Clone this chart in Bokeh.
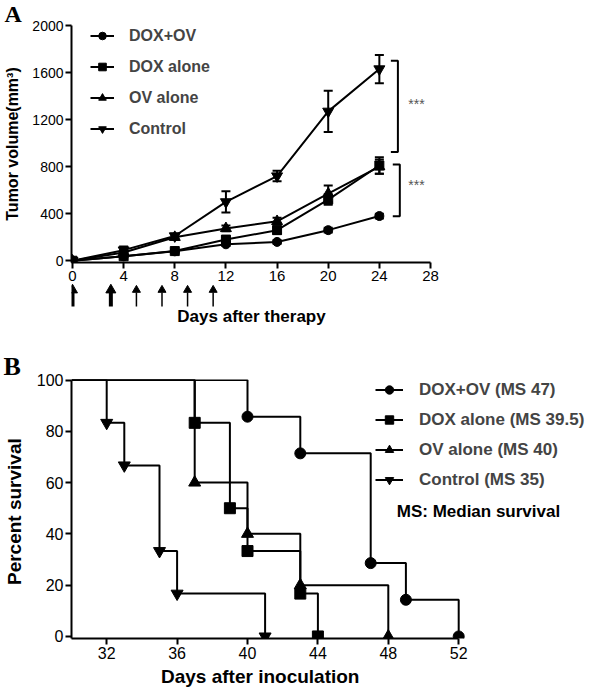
from bokeh.plotting import figure
from bokeh.layouts import column
from bokeh.models import (ColumnDataSource, Legend, LegendItem, Label, Whisker,
                          TeeHead, FixedTicker, Range1d)
from bokeh.embed import file_html
from bokeh.resources import INLINE
from bokeh.core.properties import value

FONT = "Liberation Sans"

# ---------------- Panel A data ----------------
days = [0, 4, 8, 12, 16, 20, 24]
dox_ov = [0, 38, 80, 140, 160, 260, 380]
dox_ov_err = [0, 8, 10, 15, 15, 20, 20]
dox_alone = [0, 38, 82, 180, 260, 520, 810]
dox_alone_err = [0, 8, 15, 20, 30, 45, 70]
ov_alone = [0, 70, 200, 275, 335, 570, 800]
ov_alone_err = [0, 15, 20, 25, 30, 70, 60]
control = [0, 90, 210, 500, 720, 1270, 1630]
control_err = [0, 30, 20, 90, 45, 175, 120]
series_names_A = ["DOX+OV", "DOX alone", "OV alone", "Control"]

# treatment days (arrows under the axis)
arrow_days = [0, 3, 5, 7, 9, 11]
arrow_thick = [True, True, False, False, False, False]

# significance brackets
bracket_x = [[24.9, 25.45, 25.45, 24.9], [25.05, 25.6, 25.6, 25.05]]
bracket_y = [[1700, 1700, 925, 925], [818, 818, 379, 379]]
star_x = [26.9, 26.9]
star_y = [1335, 642]
star_text = ["***", "***"]

# ---------------- Panel B data ----------------
surv_dox_ov_t = [40, 43, 47, 49, 52]
surv_dox_ov_s = [85.7, 71.4, 28.6, 14.3, 0]
surv_dox_t = [37, 39, 40, 43, 44]
surv_dox_s = [83.3, 50, 33.3, 16.7, 0]
surv_ov_t = [37, 40, 43, 48]
surv_ov_s = [60, 40, 20, 0]
surv_ctrl_t = [32, 33, 35, 36, 41]
surv_ctrl_s = [83.3, 66.7, 33.3, 16.7, 0]
series_names_B = ["DOX+OV (MS 47)", "DOX alone (MS 39.5)", "OV alone (MS 40)", "Control (MS 35)"]
surv_start_day = 30
surv_start_pct = 100


def style_axis(ax, tick_size, label_size):
    ax.axis_line_width = 2
    ax.axis_line_color = "black"
    ax.major_tick_line_width = 2
    ax.major_tick_line_color = "black"
    ax.major_tick_out = 6
    ax.major_tick_in = 0
    ax.minor_tick_line_color = None
    ax.major_label_text_font = FONT
    ax.major_label_text_font_size = tick_size
    ax.major_label_text_color = "black"
    ax.axis_label_text_font = FONT
    ax.axis_label_text_font_style = "bold"
    ax.axis_label_text_font_size = label_size
    ax.axis_label_text_color = "black"
    ax.major_label_standoff = 2
    ax.axis_label_standoff = 2


def bare(fig):
    fig.outline_line_color = None
    fig.xgrid.visible = False
    fig.ygrid.visible = False


def letter_title(fig, text, size, standoff, left_border, x_page):
    t = fig.title
    t.text = text
    t.text_font = "Liberation Serif"
    t.text_font_style = "bold"
    t.text_font_size = size
    t.text_color = "black"
    t.align = "left"
    t.vertical_align = "bottom"
    t.offset = -(left_border - x_page)
    t.standoff = standoff


L = 70      # common left border (frame left edge)
R = 10      # common right border

# ================= Panel A =================
A_X0, A_X1 = -0.078, 28
pA = figure(frame_width=359, frame_height=237,
            x_range=Range1d(A_X0, A_X1), y_range=Range1d(-15, 2000),
            output_backend="svg", toolbar_location=None,
            min_border_left=L, min_border_right=R, min_border_top=25, min_border_bottom=0)
bare(pA)
letter_title(pA, "A", "24px", -3.5, L, 3)
pA.xaxis.ticker = FixedTicker(ticks=[0, 4, 8, 12, 16, 20, 24, 28])
pA.yaxis.ticker = FixedTicker(ticks=[0, 400, 800, 1200, 1600, 2000])
style_axis(pA.xaxis[0], "15px", "16px")
style_axis(pA.yaxis[0], "14px", "16px")
pA.yaxis.axis_label = "Tumor volume(mm\u00b3)"
pA.yaxis.axis_label_standoff = 8

itemsA = []
for name, ys, err, marker, size in zip(
        series_names_A,
        [dox_ov, dox_alone, ov_alone, control],
        [dox_ov_err, dox_alone_err, ov_alone_err, control_err],
        ["circle", "square", "triangle", "inverted_triangle"],
        [9, 9, 11, 11]):
    src = ColumnDataSource(dict(x=days, y=ys,
                                upper=[a + b for a, b in zip(ys, err)],
                                lower=[a - b for a, b in zip(ys, err)]))
    w = Whisker(base="x", upper="upper", lower="lower", source=src,
                line_width=2, line_color="black",
                upper_head=TeeHead(size=9, line_width=2, line_color="black"),
                lower_head=TeeHead(size=9, line_width=2, line_color="black"))
    pA.add_layout(w)
    ln = pA.line("x", "y", source=src, line_width=2, line_color="black")
    sc = pA.scatter("x", "y", source=src, marker=marker, size=size,
                    fill_color="black", line_color="black")
    itemsA.append(LegendItem(label=name, renderers=[ln, sc]))

pA.multi_line(bracket_x, bracket_y, line_width=2, line_color="black")
pA.text(star_x, star_y, text=star_text, text_font=value(FONT), text_font_size="14px",
        text_color="#555555", text_align="center", text_baseline="middle")

legA = Legend(items=itemsA, location=(19, 124), padding=0, margin=0,
              border_line_color=None, background_fill_alpha=0,
              label_text_font=FONT, label_text_font_style="bold", label_text_font_size="16px",
              glyph_width=24, glyph_height=19, label_height=19, label_standoff=15, spacing=12)
pA.add_layout(legA)

# ================= strip: treatment arrows + x label of A =================
STRIP_H = 68
pArr = figure(frame_width=359, frame_height=STRIP_H,
              x_range=pA.x_range, y_range=Range1d(0, STRIP_H),
              output_backend="svg", toolbar_location=None, x_axis_location=None, y_axis_location=None,
              min_border_left=L, min_border_right=R, min_border_top=0, min_border_bottom=0)
bare(pArr)
arr_src = ColumnDataSource(dict(
    x=arrow_days,
    y0=[45] * len(arrow_days),
    y1=[59] * len(arrow_days),
    yh=[61.5] * len(arrow_days),
    lw=[4 if t else 1.5 for t in arrow_thick],
    hs=[10 if t else 8 for t in arrow_thick],
))
pArr.segment("x", "y0", "x", "y1", source=arr_src, line_width="lw", line_color="black")
pArr.scatter("x", "yh", source=arr_src, marker="triangle", size="hs",
             fill_color="black", line_color="black")
pArr.add_layout(Label(x=(0 + A_X1) / 2, y=35.5, text="Days after therapy", text_font=FONT,
                      text_font_style="bold", text_font_size="17px", text_color="black",
                      text_align="center", text_baseline="middle"))

# ================= Panel B =================
B_FW = 520
pB = figure(frame_width=B_FW, frame_height=259,
            x_range=Range1d(30, 30 + B_FW / 17.6), y_range=Range1d(-0.8, 100.2),
            output_backend="svg", toolbar_location=None,
            min_border_left=L, min_border_right=R, min_border_top=28, min_border_bottom=0)
bare(pB)
letter_title(pB, "B", "26px", -3.5, L, 2)
pB.xaxis.ticker = FixedTicker(ticks=[32, 36, 40, 44, 48, 52])
pB.yaxis.ticker = FixedTicker(ticks=[0, 20, 40, 60, 80, 100])
pB.xaxis.bounds = (30, 52)
pB.yaxis.bounds = (-0.8, 100)
style_axis(pB.xaxis[0], "16px", "19px")
style_axis(pB.yaxis[0], "16px", "19px")
# the axis label is centred on the whole frame; trailing no-break spaces move the
# visible words back under the 30-52 axis span, as in the original figure
pB.xaxis.axis_label = "Days  after  inoculation" + "\u00a0" * 25
pB.xaxis.axis_label_standoff = 4
pB.yaxis.axis_label = "Percent  survival"
pB.yaxis.axis_label_standoff = 9

itemsB = []
for name, ts, ss, marker, size in zip(
        series_names_B,
        [surv_dox_ov_t, surv_dox_t, surv_ov_t, surv_ctrl_t],
        [surv_dox_ov_s, surv_dox_s, surv_ov_s, surv_ctrl_s],
        ["circle", "square", "triangle", "inverted_triangle"],
        [11, 11, 12, 12]):
    ln = pB.step([surv_start_day] + ts, [surv_start_pct] + ss, mode="after",
                 line_width=2, line_color="black")
    sc = pB.scatter(ts, ss, marker=marker, size=size, fill_color="black", line_color="black")
    itemsB.append(LegendItem(label=name, renderers=[ln, sc]))

legB = Legend(items=itemsB, location=(304, 148), padding=0, margin=0,
              border_line_color=None, background_fill_alpha=0,
              label_text_font=FONT, label_text_font_style="bold", label_text_font_size="17px",
              glyph_width=28, glyph_height=21, label_height=21, label_standoff=16, spacing=9)
pB.add_layout(legB)

pB.add_layout(Label(x=48.48, y=48.7, text="MS: Median survival", text_font=FONT,
                    text_font_style="bold", text_font_size="17px", text_color="black",
                    text_baseline="middle"))

layout = column(pA, pArr, pB, spacing=0)
open("out.html", "w").write(file_html(layout, INLINE))
